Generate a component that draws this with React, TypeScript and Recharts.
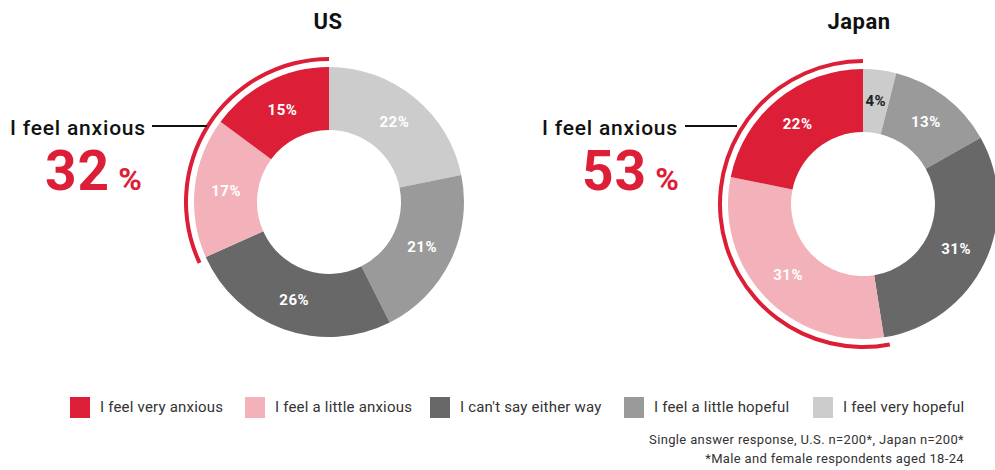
import React from "react";
import { Cell, Pie, PieChart } from "recharts";

// clockwise from 12 o'clock
const categories = ["I feel very hopeful", "I feel a little hopeful", "I can't say either way", "I feel a little anxious", "I feel very anxious"];
const usValues = [22, 21, 26, 17, 15];
const japanValues = [4, 13, 31, 31, 22];
const countries = ["US", "Japan"];
const anxiousTotals = [32, 53];

const colors = ["#cccccc", "#9a9a9a", "#686868", "#f3b1b9", "#dc1e37"];
const RED = "#dc1e37";
const FONT = "Roboto, 'Noto Sans', sans-serif";
const W = 995;
const H = 470;

const toRows = (values: number[]) => values.map((value, i) => ({ name: categories[i], value }));
const usData = toRows(usValues);
const japanData = toRows(japanValues);
const arcData = (total: number) => [{ name: "anxious", value: total }, { name: "rest", value: 100 - total }];

const RADIAN = Math.PI / 180;
const sliceLabel = (props: any) => {
  const { cx, cy, midAngle, innerRadius, outerRadius, value } = props;
  const r = (innerRadius + outerRadius) / 2;
  const x = cx + r * Math.cos(-midAngle * RADIAN);
  const y = cy + r * Math.sin(-midAngle * RADIAN);
  return (
    <text x={x} y={y} textAnchor="middle" dominantBaseline="central" fill={value < 10 ? "#222" : "#fff"} fontSize={15} fontWeight={700} fontFamily={FONT} letterSpacing={0.5}>
      {value}%
    </text>
  );
};

const donuts = [
  { data: usData, cx: 329, cy: 202, label: 328, anxiousX: 10, lineX1: 152, lineX2: 207, bigX: 45 },
  { data: japanData, cx: 863, cy: 204, label: 859, anxiousX: 542, lineX1: 685, lineX2: 737, bigX: 582 },
];

const legendOrder = [4, 3, 2, 1, 0];
const legendX = [70, 245, 430, 624, 813];

export default function App() {
  return (
    <div style={{ position: "absolute", left: 0, top: 0, width: W, height: H, background: "#fff", fontFamily: FONT }}>
      <PieChart width={W} height={H} margin={{ top: 0, right: 0, bottom: 0, left: 0 }}>
        {donuts.map((d, k) => (
          <Pie key={countries[k]} data={d.data} dataKey="value" nameKey="name" cx={d.cx} cy={d.cy} innerRadius={72} outerRadius={135} startAngle={90} endAngle={-270} stroke="none" label={sliceLabel} labelLine={false} isAnimationActive={false}>
            {d.data.map((row, i) => <Cell key={row.name} fill={colors[i]} />)}
          </Pie>
        ))}
        {donuts.map((d, k) => (
          <Pie key={countries[k] + "-arc"} data={arcData(anxiousTotals[k])} dataKey="value" cx={d.cx} cy={d.cy} innerRadius={141} outerRadius={145} startAngle={90} endAngle={450} stroke="none" isAnimationActive={false}>
            <Cell fill={RED} />
            <Cell fill="none" />
          </Pie>
        ))}
      </PieChart>
      <svg width={W} height={H} style={{ position: "absolute", left: 0, top: 0, pointerEvents: "none" }}>
        {donuts.map((d, k) => (
          <g key={countries[k]} fontFamily={FONT}>
            <text x={d.label} y={29} textAnchor="middle" fontSize={22} fontWeight={700} fill="#111" letterSpacing={0.5}>{countries[k]}</text>
            <text x={d.anxiousX} y={135} fontSize={21} fontWeight={500} fill="#111" letterSpacing={0.8}>I feel anxious</text>
            <line x1={d.lineX1} x2={d.lineX2} y1={126} y2={126} stroke="#111" strokeWidth={2} />
            <text x={d.bigX} y={190} fontWeight={700} fill={RED}>
              <tspan fontSize={55} letterSpacing={1}>{anxiousTotals[k]}</tspan>
              <tspan fontSize={32} dx={8}>%</tspan>
            </text>
          </g>
        ))}
        {legendOrder.map((idx, j) => (
          <g key={categories[idx]}>
            <rect x={legendX[j]} y={397} width={20} height={21} fill={colors[idx]} />
            <text x={legendX[j] + 30} y={412} fontSize={15} fontFamily={FONT} fill="#333" letterSpacing={0.2}>{categories[idx]}</text>
          </g>
        ))}
        <text x={964} y={444} textAnchor="end" fontSize={13} fontFamily={FONT} fill="#333" letterSpacing={0.35}>Single answer response, U.S. n=200*, Japan n=200*</text>
        <text x={964} y={463} textAnchor="end" fontSize={13} fontFamily={FONT} fill="#333" letterSpacing={0.35}>*Male and female respondents aged 18-24</text>
      </svg>
    </div>
  );
}
